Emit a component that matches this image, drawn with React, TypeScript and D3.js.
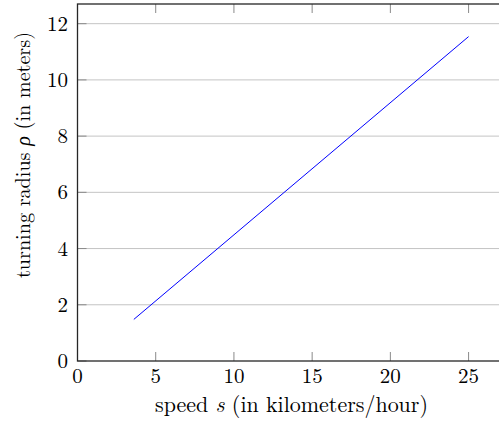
import React from "react";
import * as d3 from "d3";

const speeds = [3.6, 25];
const radii = [1.48, 11.54];
const xTicks = [0, 5, 10, 15, 20, 25];
const yTicks = [0, 2, 4, 6, 8, 10, 12];
const xLabel = "speed ";
const xLabelVar = "s";
const xLabelRest = " (in kilometers/hour)";
const yLabel = "turning radius ";
const yLabelVar = "ρ";
const yLabelRest = " (in meters)";

const W = 499;
const H = 423;
const FONT = "'Latin Modern Roman', 'Liberation Serif', serif";

export default function App() {
  const x = d3.scaleLinear().domain([0, 27.2]).range([77.5, 503]);
  const y = d3.scaleLinear().domain([0, 12.7]).range([361, 4]);
  const [x0, x1] = x.range();
  const [y0, y1] = y.range();
  const pts = speeds.map((s, i) => [s, radii[i]] as [number, number]);
  const line = d3
    .line<[number, number]>()
    .x((d) => x(d[0]))
    .y((d) => y(d[1]));
  const tickLen = 9;
  return (
    <svg
      width={W}
      height={H}
      style={{ position: "absolute", left: 0, top: 0, background: "#fff" }}
      fontFamily={FONT}
    >
      <rect x={0} y={0} width={W} height={H} fill="#fff" />
      {/* grid */}
      {yTicks
        .filter((t) => t !== 0)
        .map((t) => (
          <line
            key={"g" + t}
            x1={x0}
            x2={x1}
            y1={y(t)}
            y2={y(t)}
            stroke="#c4c4c4"
            strokeWidth={1}
          />
        ))}
      {/* x ticks */}
      {xTicks.map((t) => (
        <g key={"xt" + t}>
          <line x1={x(t)} x2={x(t)} y1={y0} y2={y0 - tickLen} stroke="#8a8a8a" strokeWidth={1} />
          <line x1={x(t)} x2={x(t)} y1={y1} y2={y1 + tickLen} stroke="#8a8a8a" strokeWidth={1} />
          <text x={x(t)} y={383} textAnchor="middle" fontSize={21} fill="#000">
            {t}
          </text>
        </g>
      ))}
      {/* y ticks */}
      {yTicks.map((t) => (
        <g key={"yt" + t}>
          <line x1={x0} x2={x0 + tickLen} y1={y(t)} y2={y(t)} stroke="#8a8a8a" strokeWidth={1} />
          <text x={68} y={y(t) + 7} textAnchor="end" fontSize={21} fill="#000">
            {t}
          </text>
        </g>
      ))}
      {/* data */}
      <path d={line(pts) || ""} fill="none" stroke="#0000ff" strokeWidth={1} />
      {/* axis box */}
      <rect
        x={x0}
        y={y1}
        width={x1 - x0}
        height={y0 - y1}
        fill="none"
        stroke="#262626"
        strokeWidth={1.3}
      />
      {/* labels */}
      <text
        x={155}
        y={412}
        fontSize={22}
        fill="#000"
        textLength={273}
        lengthAdjust="spacingAndGlyphs"
      >
        {xLabel}
        <tspan fontStyle="italic">{xLabelVar}</tspan>
        {xLabelRest}
      </text>
      <text
        transform={`translate(30,278) rotate(-90)`}
        fontSize={21}
        fill="#000"
        textLength={246}
        lengthAdjust="spacingAndGlyphs"
      >
        {yLabel}
        <tspan fontStyle="italic">{yLabelVar}</tspan>
        {yLabelRest}
      </text>
    </svg>
  );
}
